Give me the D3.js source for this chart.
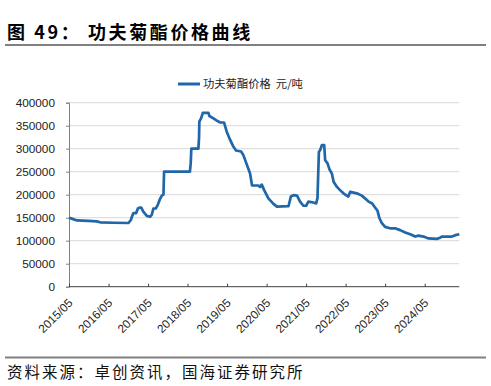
<!DOCTYPE html>
<html><head><meta charset="utf-8">
<script src="https://cdn.jsdelivr.net/npm/d3@7"></script>
<style>
html,body{margin:0;padding:0;background:#fff;}
svg{display:block;}
</style></head>
<body>
<svg id="c" width="491" height="386"></svg>
<script>
// ---- data ----
const title = "图 49：  功夫菊酯价格曲线";
const source = "资料来源：卓创资讯，国海证券研究所";
const seriesName = "功夫菊酯价格  元/吨";
const yTicks = [0, 50000, 100000, 150000, 200000, 250000, 300000, 350000, 400000];
const xTickLabels = ["2015/05","2016/05","2017/05","2018/05","2019/05","2020/05","2021/05","2022/05","2023/05","2024/05"];
const dates = ["2015-05-01","2015-05-26","2015-07-14","2015-10-24","2016-01-13","2016-02-13","2016-06-12","2016-11-01","2016-11-23","2016-12-02",
"2016-12-17","2017-01-11","2017-01-27","2017-02-11","2017-02-27","2017-03-18","2017-04-19","2017-05-19","2017-06-04","2017-06-19",
"2017-07-11","2017-07-30","2017-08-20","2017-09-05","2017-09-20","2017-09-26","2018-05-23","2018-05-30","2018-06-05","2018-08-09",
"2018-08-15","2018-08-18","2018-09-03","2018-09-19","2018-11-10","2018-11-19","2018-12-26","2019-01-27","2019-02-27","2019-04-03",
"2019-04-28","2019-05-22","2019-06-25","2019-07-23","2019-09-08","2019-09-29","2019-10-30","2019-11-30","2019-12-18","2020-02-15",
"2020-03-01","2020-03-17","2020-04-08","2020-05-17","2020-07-03","2020-08-04","2020-11-19","2020-12-11","2021-01-05","2021-02-06",
"2021-03-06","2021-04-06","2021-05-01","2021-05-22","2021-07-07","2021-08-02","2021-08-14","2021-08-27","2021-09-08","2021-09-24",
"2021-10-15","2021-10-24","2021-11-15","2021-12-03","2021-12-25","2022-01-10","2022-02-10","2022-03-11","2022-04-11","2022-05-26",
"2022-06-12","2022-08-13","2022-09-28","2022-11-29","2023-01-02","2023-01-23","2023-02-20","2023-03-08","2023-04-01","2023-05-01",
"2023-06-16","2023-08-01","2023-09-17","2023-11-03","2023-12-19","2024-02-03","2024-03-04","2024-04-20","2024-06-05","2024-08-21",
"2024-09-21","2024-10-07","2025-01-08","2025-02-08","2025-03-17"];
const prices = [150000,148000,144000,143000,142000,140000,139000,138500,145000,152000,
160000,160000,170000,172000,172000,163000,154000,152000,156000,170000,
170000,178000,191000,198000,200000,250000,250000,268000,300000,300000,
323000,359000,366000,378000,378000,371000,366000,361000,357000,357000,
337000,323000,306000,296000,294000,286000,266000,246000,220000,220000,
217000,222000,210000,192000,180000,174000,175000,196000,199000,198000,
185000,176000,176000,185000,183000,181000,193000,293000,297000,308000,
308000,275000,268000,255000,246000,228000,217000,210000,203000,196000,
206000,203000,198000,185000,181000,174000,165000,150000,138000,130000,
127000,127000,123000,118000,114000,109000,111000,109000,105000,104000,
106500,109000,109000,112000,114000];

// ---- chart ----
(function(){
const svg = d3.select("#c");
const parse = d3.timeParse("%Y-%m-%d");
const data = dates.map((d,i)=>({date: parse(d), value: prices[i]}));
const pLeft = 69, pRight = 459.3, pTop = 102.7, pBottom = 286.7;
const x = d3.scaleTime().domain([parse("2015-05-01"), parse("2025-03-17")]).range([pLeft, pRight]);
const y = d3.scaleLinear().domain([0, 400000]).range([pBottom, pTop]);
const FONT = "'Liberation Sans', Arial, sans-serif";
const CJK = "'Noto Sans CJK SC', sans-serif";

// title
svg.append("text").attr("x", 7).attr("y", 39).attr("font-family", CJK).attr("font-weight", "bold")
  .attr("font-size", 18).attr("letter-spacing", 2.6).attr("fill", "#000").text(title);
svg.append("line").attr("x1", 5).attr("x2", 486).attr("y1", 45).attr("y2", 45)
  .attr("stroke", "#808080").attr("stroke-width", 2);

// gridlines
svg.append("g").selectAll("line").data(yTicks.filter(v=>v>0)).join("line")
  .attr("x1", pLeft).attr("x2", pRight).attr("y1", d=>y(d)).attr("y2", d=>y(d))
  .attr("stroke", "#d9d9d9").attr("stroke-width", 1);

// y axis
const yAxis = svg.append("g").attr("transform", `translate(${pLeft},0)`)
  .call(d3.axisLeft(y).tickValues(yTicks).tickSize(3).tickPadding(11).tickFormat(d3.format("d")));
yAxis.select(".domain").attr("stroke", "#808080");
yAxis.selectAll(".tick line").attr("stroke", "#808080");
yAxis.selectAll("text").attr("font-family", FONT).attr("font-size", 11.8).attr("fill", "#222");

// x axis
const xTickDates = xTickLabels.map(s=>d3.timeParse("%Y/%m")(s));
const xAxis = svg.append("g").attr("transform", `translate(0,${pBottom})`)
  .call(d3.axisBottom(x).tickValues(xTickDates).tickSizeInner(-3).tickSizeOuter(0).tickFormat(d3.timeFormat("%Y/%m")));
xAxis.select(".domain").attr("stroke", "#404040").attr("d", `M${pLeft},0H${pRight}`);
xAxis.selectAll(".tick line").attr("stroke", "#404040");
xAxis.selectAll("text").attr("font-family", FONT).attr("font-size", 11.8).attr("fill", "#222")
  .attr("text-anchor", "end").attr("dy", null).attr("y", 0)
  .attr("transform", "translate(4,17) rotate(-45)");

// line
svg.append("path").datum(data)
  .attr("fill", "none").attr("stroke", "#1f67a9").attr("stroke-width", 2.7)
  .attr("stroke-linejoin", "round")
  .attr("d", d3.line().x(d=>x(d.date)).y(d=>y(d.value)));

// legend
svg.append("line").attr("x1", 178).attr("x2", 200).attr("y1", 84).attr("y2", 84)
  .attr("stroke", "#1f67a9").attr("stroke-width", 3);
svg.append("text").attr("x", 203).attr("y", 88).attr("font-family", CJK).attr("font-size", 11.3)
  .attr("fill", "#222").attr("xml:space", "preserve").text(seriesName);

// bottom rule & source
svg.append("line").attr("x1", 5).attr("x2", 486).attr("y1", 357.5).attr("y2", 357.5)
  .attr("stroke", "#808080").attr("stroke-width", 2);
svg.append("text").attr("x", 7).attr("y", 378).attr("font-family", CJK).attr("font-size", 15.5)
  .attr("letter-spacing", 2).attr("fill", "#111").text(source);
})();
</script>
</body></html>
